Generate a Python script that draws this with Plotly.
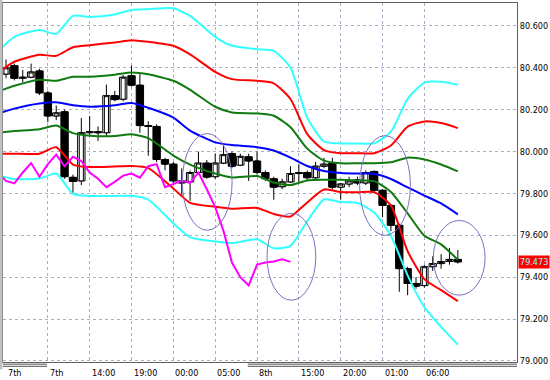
import plotly.graph_objects as go

# ---------------- data ----------------
HOURS = list(range(55))
OPEN = [80.37, 80.41, 80.35, 80.355, 80.385, 80.28, 80.17, 80.19, 79.877, 79.86,
        80.09, 80.095, 80.09, 80.267, 80.25, 80.362, 80.317, 80.124, 80.12, 79.962,
        79.94, 79.86, 79.855, 79.90, 79.945, 79.88, 79.945, 79.99, 79.935, 79.975,
        79.955, 79.90, 79.87, 79.832, 79.855, 79.895, 79.90, 79.875, 79.93, 79.945,
        79.83, 79.845, 79.865, 79.85, 79.905, 79.815, 79.743, 79.648, 79.441, 79.37,
        79.36, 79.45, 79.465, 79.475, 79.485]
HIGH = [80.44, 80.42, 80.39, 80.42, 80.395, 80.29, 80.22, 80.20, 79.89, 80.16,
        80.17, 80.12, 80.32, 80.29, 80.365, 80.41, 80.37, 80.145, 80.13, 79.97,
        79.95, 79.92, 79.91, 80.00, 79.96, 79.99, 80.03, 80.00, 79.99, 79.99,
        80.00, 79.91, 79.88, 79.87, 79.93, 79.94, 79.91, 79.95, 79.97, 79.97,
        79.85, 79.88, 79.88, 79.91, 79.91, 79.82, 79.75, 79.655, 79.45, 79.40,
        79.46, 79.50, 79.51, 79.54, 79.53]
LOW = [80.35, 80.34, 80.33, 80.35, 80.27, 80.14, 80.15, 79.87, 79.80, 79.84,
       80.08, 80.05, 80.07, 80.24, 80.24, 80.31, 80.09, 79.98, 79.95, 79.91,
       79.85, 79.79, 79.765, 79.89, 79.87, 79.87, 79.94, 79.92, 79.93, 79.86,
       79.89, 79.86, 79.77, 79.82, 79.85, 79.85, 79.86, 79.86, 79.92, 79.82,
       79.77, 79.83, 79.84, 79.84, 79.80, 79.687, 79.62, 79.33, 79.314, 79.345,
       79.35, 79.43, 79.44, 79.46, 79.465]
CLOSE = [80.40, 80.35, 80.355, 80.38, 80.28, 80.17, 80.185, 79.88, 79.857, 80.09,
         80.095, 80.09, 80.267, 80.248, 80.355, 80.317, 80.124, 80.12, 79.962, 79.94,
         79.86, 79.85, 79.90, 79.945, 79.878, 79.945, 79.985, 79.93, 79.977, 79.955,
         79.90, 79.87, 79.83, 79.855, 79.895, 79.90, 79.875, 79.93, 79.94, 79.83,
         79.845, 79.86, 79.85, 79.90, 79.815, 79.743, 79.648, 79.441, 79.37, 79.357,
         79.45, 79.465, 79.475, 79.485, 79.473]

BAND_H = [-1, 1, 4, 6, 8, 10, 13, 15, 17, 20, 22, 25, 27, 30, 32, 34, 36, 38, 40,
          42, 44, 46, 48, 50, 52, 54]
UPPER3 = [80.476, 80.548, 80.581, 80.562, 80.648, 80.643, 80.655, 80.676, 80.680,
          80.684, 80.648, 80.548, 80.505, 80.489, 80.481, 80.401, 80.162, 80.048,
          80.039, 80.039, 80.039, 80.095, 80.252, 80.329, 80.333, 80.319]
UPPER2 = [80.376, 80.429, 80.462, 80.457, 80.498, 80.508, 80.521, 80.532, 80.524,
          80.505, 80.464, 80.381, 80.346, 80.338, 80.326, 80.251, 80.083, 80.007,
          79.992, 79.992, 79.992, 80.029, 80.119, 80.144, 80.136, 80.112]
UPPER1 = [80.286, 80.314, 80.343, 80.338, 80.357, 80.357, 80.367, 80.378, 80.369,
          80.338, 80.295, 80.214, 80.187, 80.182, 80.171, 80.116, 80.014, 79.957,
          79.944, 79.944, 79.944, 79.949, 79.971, 79.962, 79.938, 79.905]
MIDDLE = [80.181, 80.205, 80.229, 80.235, 80.221, 80.214, 80.221, 80.232, 80.209,
          80.162, 80.100, 80.044, 80.031, 80.021, 80.005, 79.971, 79.931, 79.907,
          79.898, 79.895, 79.894, 79.869, 79.829, 79.790, 79.752, 79.700]
LOWER1 = [80.090, 80.098, 80.107, 80.124, 80.088, 80.076, 80.074, 80.083, 80.064,
          79.981, 79.938, 79.895, 79.876, 79.883, 79.852, 79.840, 79.862, 79.865,
          79.865, 79.862, 79.859, 79.807, 79.705, 79.598, 79.557, 79.483]
LOWER2 = [79.990, 79.990, 79.990, 80.021, 79.938, 79.926, 79.929, 79.931, 79.921,
          79.824, 79.755, 79.736, 79.727, 79.731, 79.702, 79.690, 79.757, 79.819,
          79.807, 79.806, 79.806, 79.743, 79.524, 79.391, 79.338, 79.286]
LOWER3 = [79.888, 79.869, 79.871, 79.895, 79.798, 79.788, 79.788, 79.789, 79.771,
          79.657, 79.590, 79.571, 79.563, 79.581, 79.538, 79.550, 79.667, 79.771,
          79.759, 79.755, 79.709, 79.598, 79.409, 79.257, 79.163, 79.078]

LAG_H = list(range(-1, 35))
LAGGING = [79.90, 79.86, 79.848, 79.90, 79.945, 79.88, 79.94, 79.985, 79.93, 79.975,
           79.955, 79.90, 79.87, 79.83, 79.855, 79.885, 79.895, 79.875, 79.93, 79.94,
           79.83, 79.845, 79.86, 79.85, 79.90, 79.82, 79.735, 79.62, 79.47, 79.40,
           79.36, 79.46, 79.47, 79.475, 79.485, 79.473]

GRID_H = [5, 10, 15, 20, 25, 30, 35, 40, 45, 50]
X_LABEL_H = [0, 5, 10, 15, 20, 25, 30, 35, 40, 45, 50]
X_LABELS = ["7th", "7th", "14:00", "19:00", "00:00", "05:00", "8th", "15:00",
            "20:00", "01:00", "06:00"]
Y_TICKS = [79.0, 79.2, 79.4, 79.6, 79.8, 80.0, 80.2, 80.4, 80.6]
LAST_PRICE = 79.473

# ---------------- figure ----------------
FONT = "Liberation Sans Narrow, DejaVu Sans Condensed, Arial Narrow, sans-serif"
fig = go.Figure()

# wicks (candlestick), bodies drawn on top as bars
fig.add_trace(go.Candlestick(
    x=HOURS, open=OPEN, high=HIGH, low=LOW, close=CLOSE,
    increasing=dict(line=dict(color="#000000", width=1), fillcolor="#ffffff"),
    decreasing=dict(line=dict(color="#000000", width=1), fillcolor="#000000"),
    whiskerwidth=0, showlegend=False, hoverinfo="skip"))

body_base = [min(o, c) for o, c in zip(OPEN, CLOSE)]
body_len = [max(abs(c - o), 0.004) for o, c in zip(OPEN, CLOSE)]
body_fill = ["#ffffff" if c >= o else "#000000" for o, c in zip(OPEN, CLOSE)]
fig.add_trace(go.Bar(x=HOURS, y=body_len, base=body_base, width=0.88,
                     marker=dict(color=body_fill, line=dict(color="#000000", width=1)),
                     showlegend=False, hoverinfo="skip"))

bands = [(UPPER3, "#33ffff"), (LOWER3, "#33ffff"),
         (UPPER2, "#ff0000"), (LOWER2, "#ff0000"),
         (UPPER1, "#107a10"), (LOWER1, "#107a10"),
         (MIDDLE, "#0000ff")]
for vals, col in bands:
    fig.add_trace(go.Scatter(x=BAND_H, y=vals, mode="lines",
                             line=dict(color=col, width=2, shape="spline", smoothing=0.6),
                             showlegend=False, hoverinfo="skip"))

fig.add_trace(go.Scatter(x=LAG_H, y=LAGGING, mode="lines",
                         line=dict(color="#ff00ff", width=2),
                         showlegend=False, hoverinfo="skip"))

# ellipses (annotation marks)
ell_col = "#7f6fc0"
for x0, x1, y0, y1 in [(21.07, 27.02, 79.624, 80.086),
                       (31.19, 37.02, 79.290, 79.705),
                       (42.26, 48.33, 79.600, 80.076),
                       (51.07, 57.26, 79.314, 79.671)]:
    fig.add_shape(type="circle", xref="x", yref="y", x0=x0, x1=x1, y0=y0, y1=y1,
                  line=dict(color=ell_col, width=1))

# bottom separator double lines
for xa, xb in [(-0.8, 4.9), (28.9, 61.2)]:
    for yy in [-0.006, -0.012]:
        fig.add_shape(type="line", xref="x", yref="paper", x0=xa, x1=xb, y0=yy, y1=yy,
                      line=dict(color="#505050", width=1))
# left gray strip
fig.add_shape(type="rect", xref="paper", yref="paper", x0=-0.006, x1=-0.001, y0=-0.02, y1=1.01,
              line=dict(width=0), fillcolor="#c0c0c0")

for h, lab in zip(X_LABEL_H, X_LABELS):
    fig.add_annotation(x=h, xref="x", y=-0.012, yref="paper", text=lab, showarrow=False,
                       xanchor="left", yanchor="top", xshift=0,
                       font=dict(family=FONT, size=9, color="#000000"))

fig.add_annotation(x=1, xref="paper", y=LAST_PRICE, yref="y", text=f"{LAST_PRICE:.3f}",
                   showarrow=False, xanchor="left", yanchor="middle", xshift=1,
                   bgcolor="#ff0000", borderpad=1,
                   font=dict(family=FONT, size=9, color="#80ffff"))

fig.update_layout(
    width=550, height=380,
    margin=dict(l=3, r=31, t=2, b=18),
    paper_bgcolor="#ffffff", plot_bgcolor="#ffffff",
    barmode="overlay",
    xaxis=dict(range=[-0.36, 61.07], rangeslider=dict(visible=False),
               tickvals=GRID_H, ticktext=[""] * len(GRID_H), ticks="",
               showgrid=True, gridcolor="#a8b0c8", griddash="dot", gridwidth=1,
               showline=True, linecolor="#606060", linewidth=1, mirror=True,
               zeroline=False, fixedrange=True),
    yaxis=dict(range=[78.995, 80.7095], side="right",
               tickvals=Y_TICKS, tickformat=".3f", ticks="",
               tickfont=dict(family=FONT, size=9, color="#000000"),
               showgrid=True, gridcolor="#a8b0c8", griddash="dot", gridwidth=1,
               showline=True, linecolor="#606060", linewidth=1, mirror=True,
               zeroline=False, fixedrange=True),
)

fig.write_html("out.html")
